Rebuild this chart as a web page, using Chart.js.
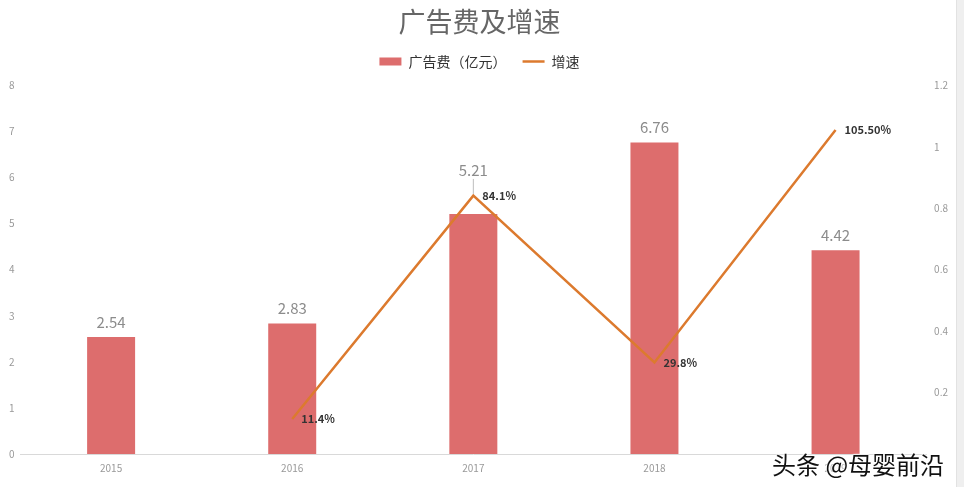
<!DOCTYPE html>
<html>
<head>
<meta charset="utf-8">
<script src="https://cdn.jsdelivr.net/npm/chart.js@4/dist/chart.umd.min.js"></script>
<style>
  html, body { margin:0; padding:0; background:#fff; }
  .wrap { position:relative; width:964px; height:487px; overflow:hidden; }
  .edge { position:absolute; right:0; top:0; width:7px; height:487px; background:#efefef; border-left:1px solid #e2e2e2; }
  .mark {
    position:absolute; left:772px; top:446px;
    font-family:'Noto Sans CJK SC',sans-serif; font-size:24px; color:#111;
    text-shadow:0 0 2px #fff, 0 0 2px #fff, 0 0 3px #fff;
  }
</style>
</head>
<body>
<div class="wrap">
  <canvas id="chart" width="964" height="487"></canvas>
  <div class="edge"></div>
  <div class="mark">头条 @母婴前沿</div>
</div>
<script>
/* ── Data ── */
const years = ['2015', '2016', '2017', '2018', '2019'];
const adSpend = [2.54, 2.83, 5.21, 6.76, 4.42];
const growth = [null, 0.114, 0.841, 0.298, 1.055];
const growthLabels = ['', '11.4%', '84.1%', '29.8%', '105.50%'];

const BAR = '#DD6D6D';
const LINE = '#DC7A2E';
const FONT = "'Noto Sans CJK SC', 'Noto Sans', sans-serif";

/* ── Extra room under the legend ── */
const legendGap = {
  id: 'legendGap',
  beforeInit(chart) {
    const fit = chart.legend.fit;
    chart.legend.fit = function () {
      fit.call(this);
      this.height += 7;
    };
  }
};

/* ── Value labels (bars above, line to the right) ── */
const valueLabels = {
  id: 'valueLabels',
  afterDatasetsDraw(chart) {
    const ctx = chart.ctx;
    ctx.save();
    // bar values
    chart.getDatasetMeta(0).data.forEach((bar, i) => {
      let y = bar.y - 15;
      if (i === 2) {
        // pushed up over the line point, with a leader
        y = bar.y - 44;
        ctx.strokeStyle = '#bdbdbd';
        ctx.lineWidth = 1;
        ctx.beginPath();
        ctx.moveTo(bar.x, y + 9);
        ctx.lineTo(bar.x, bar.y - 20);
        ctx.stroke();
      }
      ctx.fillStyle = '#8c8c8c';
      ctx.font = '15px ' + FONT;
      ctx.textAlign = 'center';
      ctx.textBaseline = 'middle';
      ctx.fillText(adSpend[i].toFixed(2), bar.x, y);
    });
    // growth labels
    chart.getDatasetMeta(1).data.forEach((pt, i) => {
      if (growth[i] == null) return;
      ctx.fillStyle = '#333';
      ctx.font = 'bold 11px ' + FONT;
      ctx.textAlign = 'left';
      ctx.textBaseline = 'middle';
      ctx.fillText(growthLabels[i], pt.x + 9, pt.y);
    });
    ctx.restore();
  }
};

new Chart(document.getElementById('chart'), {
  data: {
    labels: years,
    datasets: [
      {
        type: 'bar',
        label: '广告费（亿元） ',
        data: adSpend,
        backgroundColor: BAR,
        borderWidth: 0,
        barPercentage: 0.53,
        categoryPercentage: 0.5,
        yAxisID: 'y',
        order: 2
      },
      {
        type: 'line',
        label: '增速',
        data: growth,
        borderColor: LINE,
        backgroundColor: LINE,
        borderWidth: 2.5,
        pointRadius: 0,
        tension: 0,
        spanGaps: false,
        yAxisID: 'y1',
        order: 1
      }
    ]
  },
  options: {
    responsive: false,
    animation: false,
    layout: { padding: { left: 3, right: 8, top: 4, bottom: 5 } },
    plugins: {
      title: {
        display: true,
        text: '广告费及增速',
        color: '#666',
        font: { family: FONT, size: 27, weight: 'normal' },
        padding: { top: 2, bottom: 3 }
      },
      legend: {
        display: true,
        labels: {
          color: '#333',
          font: { family: FONT, size: 14 },
          usePointStyle: true,
          pointStyleWidth: 22,
          boxHeight: 8,
          padding: 13,
          sort: (a, b) => a.datasetIndex - b.datasetIndex,
          generateLabels(chart) {
            const items = Chart.defaults.plugins.legend.labels.generateLabels(chart);
            items.forEach(it => {
              if (it.datasetIndex === 0) {
                it.pointStyle = 'rect';
                it.fillStyle = BAR;
                it.lineWidth = 0;
              } else {
                it.pointStyle = 'line';
                it.strokeStyle = LINE;
                it.lineWidth = 2.5;
              }
            });
            return items;
          }
        }
      },
      tooltip: { enabled: false }
    },
    scales: {
      x: {
        grid: { display: false, drawTicks: false },
        border: { color: '#d9d9d9' },
        ticks: { color: '#999', font: { family: FONT, size: 10 }, padding: 8 }
      },
      y: {
        position: 'left',
        min: 0, max: 8,
        ticks: { stepSize: 1, color: '#999', font: { family: FONT, size: 10 }, padding: 6 },
        grid: { display: false, drawTicks: false },
        border: { display: false }
      },
      y1: {
        position: 'right',
        min: 0, max: 1.2,
        ticks: {
          stepSize: 0.2, color: '#999', font: { family: FONT, size: 10 }, padding: 8,
          callback: v => v === 0 ? '' : +v.toFixed(1)
        },
        grid: { display: false, drawTicks: false },
        border: { display: false }
      }
    }
  },
  plugins: [legendGap, valueLabels]
});
</script>
</body>
</html>
